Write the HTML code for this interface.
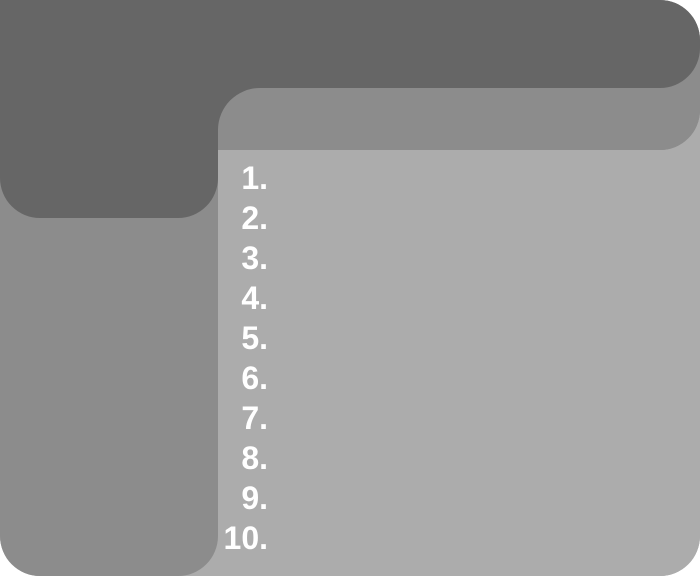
<!DOCTYPE html>
<html><head><meta charset="utf-8"><style>
body{margin:0;width:700px;height:576px;background:#fff;position:relative;overflow:hidden;font-family:"Liberation Sans",sans-serif}
div{position:absolute}
.n{right:432px;width:80px;text-align:right;color:#fff;font-weight:bold;font-size:32px;line-height:40px;height:40px}
</style></head><body>
<div style="left:0;top:0;width:700px;height:576px;border-radius:40px;background:#acacac"></div>
<div style="left:0;top:0;width:218px;height:576px;border-radius:0 0 40px 40px;background:#8c8c8c"></div>
<div style="left:0;top:0;width:700px;height:150px;border-radius:40px 40px 40px 0;background:#8c8c8c"></div>
<div style="left:0;top:0;width:700px;height:88px;border-radius:40px 40px 40px 0;background:#666"></div>
<div style="left:0;top:0;width:218px;height:218px;border-radius:0 0 40px 40px;background:#666"></div>
<div style="left:210px;top:80px;width:50px;height:50px;background:#666"></div>
<div style="left:218px;top:88px;width:482px;height:62px;border-radius:42px 0 40px 0;background:#8c8c8c"></div>
<div style="left:218px;top:150px;width:482px;height:426px;border-radius:8px 0 40px 0;background:#acacac"></div>
<div style="left:0;top:158px;width:700px;height:400px">
<div class="n" style="top:0">1.</div>
<div class="n" style="top:40px">2.</div>
<div class="n" style="top:80px">3.</div>
<div class="n" style="top:120px">4.</div>
<div class="n" style="top:160px">5.</div>
<div class="n" style="top:200px">6.</div>
<div class="n" style="top:240px">7.</div>
<div class="n" style="top:280px">8.</div>
<div class="n" style="top:320px">9.</div>
<div class="n" style="top:360px">10.</div>
</div>
</body></html>
